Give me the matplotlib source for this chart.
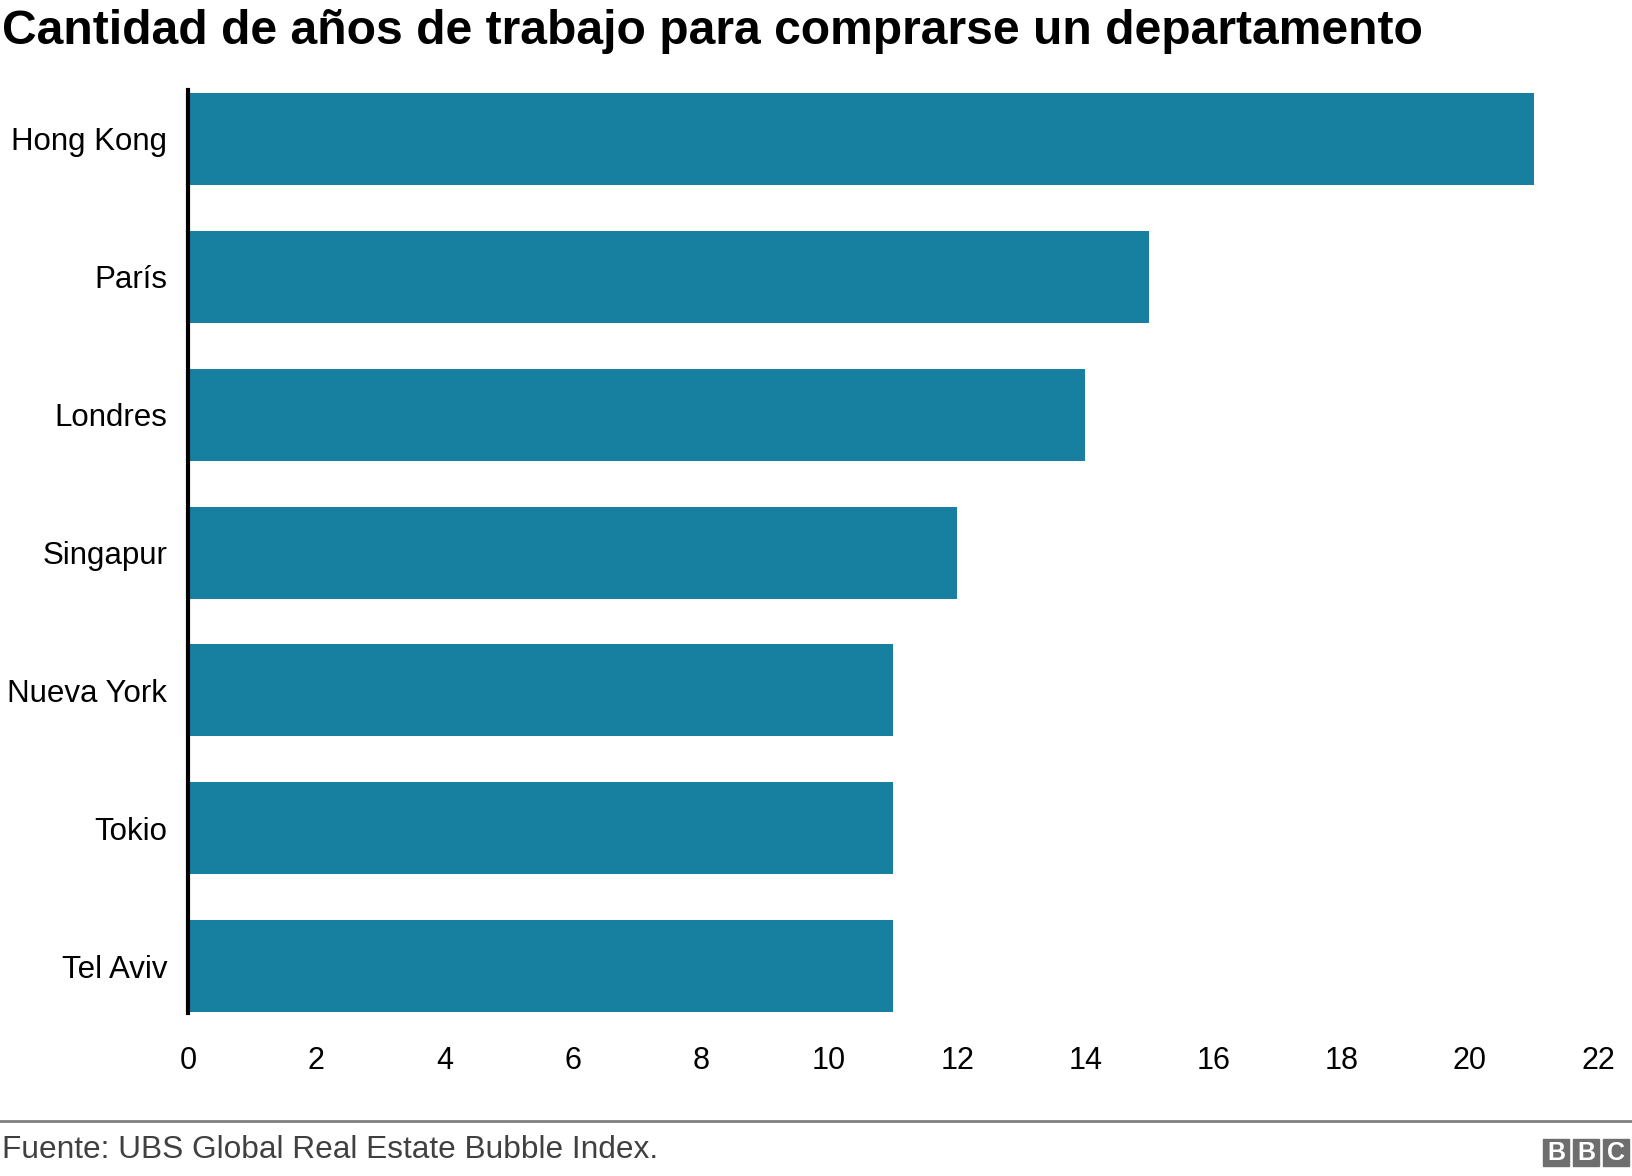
import matplotlib
matplotlib.use("Agg")
import matplotlib.pyplot as plt
from matplotlib.patches import Rectangle
from matplotlib.lines import Line2D

# data
cities = ["Hong Kong", "París", "Londres", "Singapur", "Nueva York", "Tokio", "Tel Aviv"]
years = [21, 15, 14, 12, 11, 11, 11]
xticks = [0, 2, 4, 6, 8, 10, 12, 14, 16, 18, 20, 22]

title = "Cantidad de años de trabajo para comprarse un departamento"
source = "Fuente: UBS Global Real Estate Bubble Index."

bar_color = "#1780a1"
bar_h = 0.667

plt.rcParams['font.family'] = ['Liberation Sans', 'DejaVu Sans']

W, H = 1632, 1176
fig = plt.figure(figsize=(W / 100, H / 100), dpi=100)
ax = fig.add_axes([188 / W, 1 - 1013 / H, (1598 - 188) / W, (1013 - 90) / H])

pos = list(range(len(cities)))
ax.barh(pos, years, height=bar_h, color=bar_color, zorder=2)
ax.set_ylim(len(cities) - 1 + bar_h / 2 + 0.005, -bar_h / 2 - 0.02)
ax.set_xlim(0, 22)

ax.set_yticks(pos)
ax.set_yticklabels(cities, fontsize=22.5)
ax.set_xticks(xticks)
ax.set_xticklabels([str(t) for t in xticks], fontsize=22)
ax.tick_params(axis='y', length=0, pad=15)
ax.tick_params(axis='x', length=0, pad=24)

for s in ["top", "right", "bottom"]:
    ax.spines[s].set_visible(False)
ax.spines["left"].set_linewidth(3)
ax.spines["left"].set_color("black")
ax.spines["left"].set_zorder(3)

# title
fig.text(2 / W, 1 - 31 / H, title, fontsize=34.6, fontweight="bold",
         ha="left", va="center", color="black")

# footer rule and source
fig.add_artist(Line2D([0, 1], [1 - 1121 / H, 1 - 1121 / H], color="#808080", lw=2))
fig.text(2 / W, 1 - 1150 / H, source, fontsize=22.8, color="#404040",
         ha="left", va="center")

# BBC blocks
bw, gap = 26, 4
x0, y0 = 1543, 1139
for i, letter in enumerate("BBC"):
    xl = x0 + i * (bw + gap)
    fig.add_artist(Rectangle((xl / W, 1 - (y0 + 27) / H), bw / W, 27 / H,
                             transform=fig.transFigure, color="#6e6e6e"))
    fig.text((xl + bw / 2) / W, 1 - (y0 + 14) / H, letter, fontsize=18,
             fontweight="bold", color="white", ha="center", va="center")

fig.savefig("out.png", dpi=100)
